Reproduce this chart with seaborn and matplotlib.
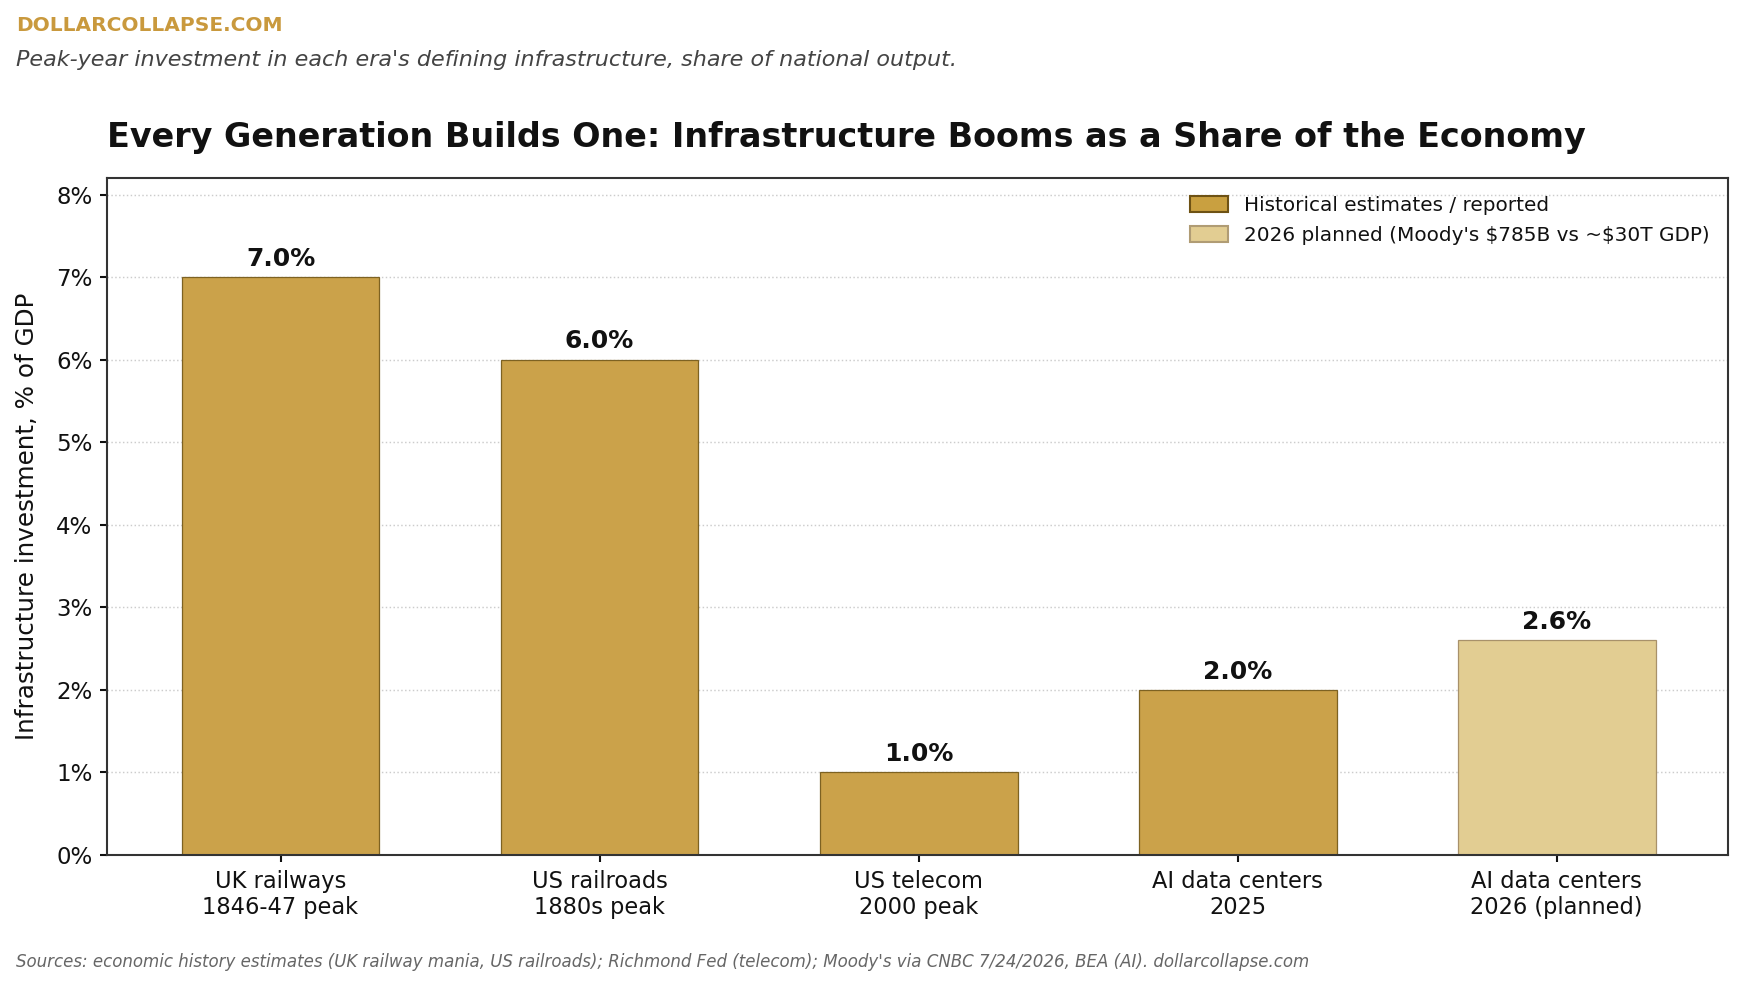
import matplotlib
matplotlib.use("Agg")
import matplotlib.pyplot as plt
from matplotlib.patches import Patch
from matplotlib.ticker import PercentFormatter, MultipleLocator
import seaborn as sns
import pandas as pd

categories = ["UK railways\n1846-47 peak", "US railroads\n1880s peak", "US telecom\n2000 peak",
              "AI data centers\n2025", "AI data centers\n2026 (planned)"]
values = [7.0, 6.0, 1.0, 2.0, 2.6]
legend_labels = ["Historical estimates / reported", "2026 planned (Moody's \\$785B vs ~\\$30T GDP)"]
kinds = [legend_labels[0]] * 4 + [legend_labels[1]]

DARK = "#CBA24A"
DARK_EDGE = "#7D6222"
LIGHT = "#E2CD92"
LIGHT_EDGE = "#A8916A"

sns.set_theme(style="white")
plt.rcParams["font.family"] = ["DejaVu Sans"]

df = pd.DataFrame({"cat": categories, "val": values, "kind": kinds})

W, H = 1744, 988
fig = plt.figure(figsize=(W / 150, H / 150), dpi=150)
bottom_px = 855
top_px = 178
ax = fig.add_axes([107 / W, 1 - bottom_px / H, (1728 - 107) / W, (bottom_px - top_px) / H])

sns.barplot(data=df, x="cat", y="val", hue="kind", palette={legend_labels[0]: DARK, legend_labels[1]: LIGHT},
            dodge=False, width=0.62, saturation=1, legend=False, ax=ax, linewidth=0.6)

bars = sorted([p for p in ax.patches if p.get_height() > 0], key=lambda p: p.get_x())
for p, k in zip(bars, kinds):
    p.set_edgecolor(DARK_EDGE if k == legend_labels[0] else LIGHT_EDGE)
    p.set_linewidth(0.6)

for p, v in zip(bars, values):
    ax.annotate(f"{v:.1f}%", (p.get_x() + p.get_width() / 2, p.get_height()),
                xytext=(0, 3), textcoords="offset points", ha="center", va="bottom",
                fontsize=12, fontweight="bold", color="#111111")

ax.set_ylim(0, 8.2)
ax.set_xlim(-0.544, 4.537)
ax.yaxis.set_major_locator(MultipleLocator(1))
ax.yaxis.set_major_formatter(PercentFormatter(decimals=0))
ax.grid(axis="y", linestyle=":", color="#cccccc", linewidth=0.7)
ax.set_axisbelow(True)
ax.set_xlabel("")
ax.set_ylabel("Infrastructure investment, % of GDP", fontsize=11.8, color="#111111", labelpad=8)
ax.tick_params(axis="both", which="major", labelsize=10.8, colors="#111111", length=3.5, width=1,
               direction="out", bottom=True, left=True)
ax.tick_params(axis="y", labelsize=11)
for s in ax.spines.values():
    s.set_color("#333333")
    s.set_linewidth(1.0)

ax.set_title("Every Generation Builds One: Infrastructure Booms as a Share of the Economy",
             loc="left", fontsize=16, fontweight="bold", color="#111111", pad=15)

handles = [Patch(facecolor="#C9A040", edgecolor="#6E5214", linewidth=1.0, label=legend_labels[0]),
           Patch(facecolor=LIGHT, edgecolor="#B09C74", linewidth=1.0, label=legend_labels[1])]
leg = ax.legend(handles=handles, loc="upper right", frameon=False, fontsize=9.6, borderaxespad=0.5,
                handlelength=1.9, handleheight=0.8, labelspacing=0.55)
for t in leg.get_texts():
    t.set_color("#111111")

fig.text(16 / W, 1 - 16 / H, "DOLLARCOLLAPSE.COM", fontsize=9.7, fontweight="bold",
         color="#C9993D", ha="left", va="top")
fig.text(16 / W, 1 - 50 / H, "Peak-year investment in each era's defining infrastructure, share of national output.",
         fontsize=10.7, style="italic", color="#444444", ha="left", va="top")
fig.text(16 / W, 1 - 962 / H,
         "Sources: economic history estimates (UK railway mania, US railroads); Richmond Fed (telecom); "
         "Moody's via CNBC 7/24/2026, BEA (AI). dollarcollapse.com",
         fontsize=8, style="italic", color="#666666", ha="left", va="center")

fig.savefig("out.png", dpi=150, facecolor="white")
